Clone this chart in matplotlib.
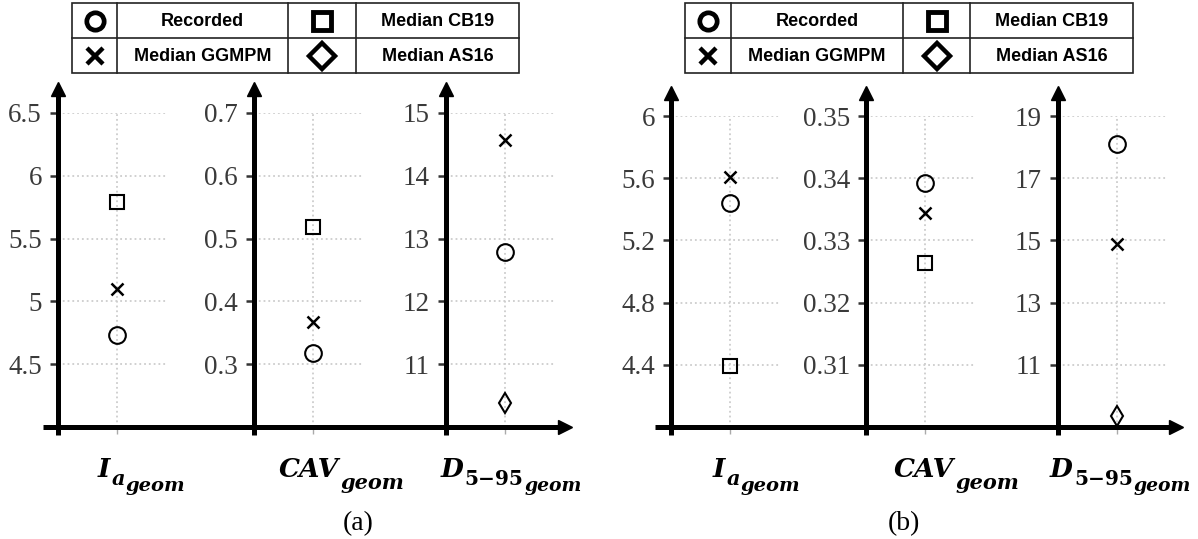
import matplotlib
matplotlib.use('Agg')
import matplotlib.pyplot as plt
from matplotlib.patches import Rectangle
import numpy as np

plt.rcParams['font.family'] = 'Liberation Serif'

# ---- data ----
series = ['Recorded', 'Median GGMPM', 'Median CB19', 'Median AS16']

# panel (a): Ia, CAV, D5-95 (geometric mean)
rec_a = [4.73, 0.3175, 12.79]
ggmpm_a = [5.10, 0.367, 14.57]
cb19_a = [5.79, 0.518, np.nan]
as16_a = [np.nan, np.nan, 10.39]
ylims_a = [(4.0, 6.5), (0.2, 0.7), (10, 15)]
yticks_a = [[4.5, 5, 5.5, 6, 6.5], [0.3, 0.4, 0.5, 0.6, 0.7], [11, 12, 13, 14, 15]]

# panel (b)
rec_b = [5.44, 0.3392, 18.10]
ggmpm_b = [5.61, 0.3344, 14.90]
cb19_b = [4.39, 0.3263, np.nan]
as16_b = [np.nan, np.nan, 9.36]
ylims_b = [(4.0, 6.0), (0.30, 0.35), (9, 19)]
yticks_b = [[4.4, 4.8, 5.2, 5.6, 6.0], [0.31, 0.32, 0.33, 0.34, 0.35], [11, 13, 15, 17, 19]]

W, H = 1198, 539
fig = plt.figure(figsize=(W / 100, H / 100), dpi=100)

# marker styles for the plot and for the table
styles = {
    'Recorded': dict(marker='o', ms=12, mew=1.5),
    'Median GGMPM': dict(marker='x', ms=8.5, mew=1.8),
    'Median CB19': dict(marker='s', ms=10, mew=1.5),
    'Median AS16': dict(marker='d', ms=10.5, mew=1.5),
}
leg_styles = {
    'Recorded': dict(marker='o', ms=12.5, mew=3.4),
    'Median GGMPM': dict(marker='x', ms=11.5, mew=3.2),
    'Median CB19': dict(marker='s', ms=13.5, mew=3.5),
    'Median AS16': dict(marker='D', ms=13, mew=3.2),
}

AXIS_Y = 427   # horizontal axis, image pixels


def px_rect(left, width, top):
    return [left / W, 1 - AXIS_Y / H, width / W, (AXIS_Y - top) / H]


def sub_axes(left, top, ylim, ticks, vals):
    ax = fig.add_axes(px_rect(left, 110, top))
    ax.set_facecolor('none')
    for s in ax.spines.values():
        s.set_visible(False)
    ax.set_xlim(-1.07, 0.93)
    ax.set_ylim(*ylim)
    ax.set_yticks(ticks)
    ax.set_yticklabels(['{:g}'.format(t) for t in ticks])
    ax.set_xticks([0])
    ax.set_xticklabels([])
    ax.grid(True, ls=':', lw=1.3, color='#cdcdcd')
    ax.tick_params(axis='y', length=5.5, width=1.8, color='#333333', pad=6,
                   labelsize=19.5, labelcolor='#3a3a3a')
    ax.tick_params(axis='x', length=5, width=1, color='#aaaaaa')
    # vertical axis with arrow
    ax.plot([0, 0], [-0.026, 1.07], transform=ax.transAxes, color='k',
            lw=3.6, clip_on=False, solid_capstyle='butt')
    ax.plot(0, 1.075, marker='^', ms=10.5, color='k', transform=ax.transAxes,
            clip_on=False)
    for name, v in zip(series, vals):
        ax.plot([0], [v], ls='none', mfc='none', mec='k', color='k',
                **styles[name])
    return ax


def panel(lefts, top, ylims, yticks, rec, gg, cb, as16):
    for i in range(3):
        sub_axes(lefts[i], top, ylims[i], yticks[i],
                 [rec[i], gg[i], cb[i], as16[i]])


panel([58, 254, 446], 113, ylims_a, yticks_a, rec_a, ggmpm_a, cb19_a, as16_a)
panel([671, 866, 1058], 116, ylims_b, yticks_b, rec_b, ggmpm_b, cb19_b, as16_b)

# overlay in image-pixel coordinates for axes lines, tables and labels
ov = fig.add_axes([0, 0, 1, 1])
ov.set_xlim(0, W)
ov.set_ylim(H, 0)
ov.axis('off')
ov.set_zorder(5)

for x0, x1 in [(43, 563), (655, 1174)]:
    ov.plot([x0, x1], [AXIS_Y, AXIS_Y], color='k', lw=3.6, solid_capstyle='butt')
    ov.plot(x1 + 2, AXIS_Y, marker='>', ms=10.5, color='k')

# legend tables
table_rows = [['Recorded', 'Median CB19'], ['Median GGMPM', 'Median AS16']]
for xs in [[72, 117, 288, 356, 519], [685, 731, 903, 970, 1133]]:
    ys = [3, 38, 73]
    ov.add_patch(Rectangle((xs[0], ys[0]), xs[-1] - xs[0], ys[-1] - ys[0],
                           fill=False, lw=1.2, ec='#222222'))
    ov.plot([xs[0], xs[-1]], [ys[1], ys[1]], color='#222222', lw=1.2)
    for x in xs[1:-1]:
        ov.plot([x, x], [ys[0], ys[-1]], color='#222222', lw=1.2)
    for r, row in enumerate(table_rows):
        yc = (ys[r] + ys[r + 1]) / 2
        for c, name in enumerate(row):
            mx = (xs[2 * c] + xs[2 * c + 1]) / 2
            tx = (xs[2 * c + 1] + xs[2 * c + 2]) / 2
            ov.plot(mx, yc, ls='none', mfc='none', mec='k', **leg_styles[name])
            ov.text(tx, yc + 1, name, ha='center', va='center',
                    fontsize=13, fontweight='bold', family='Liberation Sans')


# axis labels built from pieces (base, subscript, sub-subscript)
LAB = dict(family='DejaVu Serif', fontweight='bold')


def axis_label(x, yb, parts):
    prev = ov.text(x, yb, parts[0][0], ha='left', va='baseline', fontsize=parts[0][1],
                   style=parts[0][3], **LAB)
    for text, size, dy, st in parts[1:]:
        prev = ov.annotate(text, xy=(1, yb + dy), xycoords=(prev, 'data'),
                           xytext=(1, 0), textcoords='offset pixels', ha='left',
                           va='baseline', fontsize=size, style=st,
                           annotation_clip=False, **LAB)


YB = 477
for off, dx in [(0, 0), (615, -6)]:
    axis_label(98 + off, YB, [('I', 19, 0, 'italic'), ('a', 15, 8, 'italic'),
                              ('geom', 14, 14, 'italic')])
    axis_label(279 + off, YB, [('CAV', 19, 0, 'italic'), ('geom', 15, 12, 'italic')])
    axis_label(441 + off + dx, YB, [('D', 19, 0, 'italic'), ('5\u221295', 14.5, 8, 'normal'),
                                    ('geom', 13.5, 14, 'italic')])

ov.text(358, 524, '(a)', ha='center', va='center', fontsize=20)
ov.text(904, 524, '(b)', ha='center', va='center', fontsize=20)

fig.savefig('out.png', dpi=100)
